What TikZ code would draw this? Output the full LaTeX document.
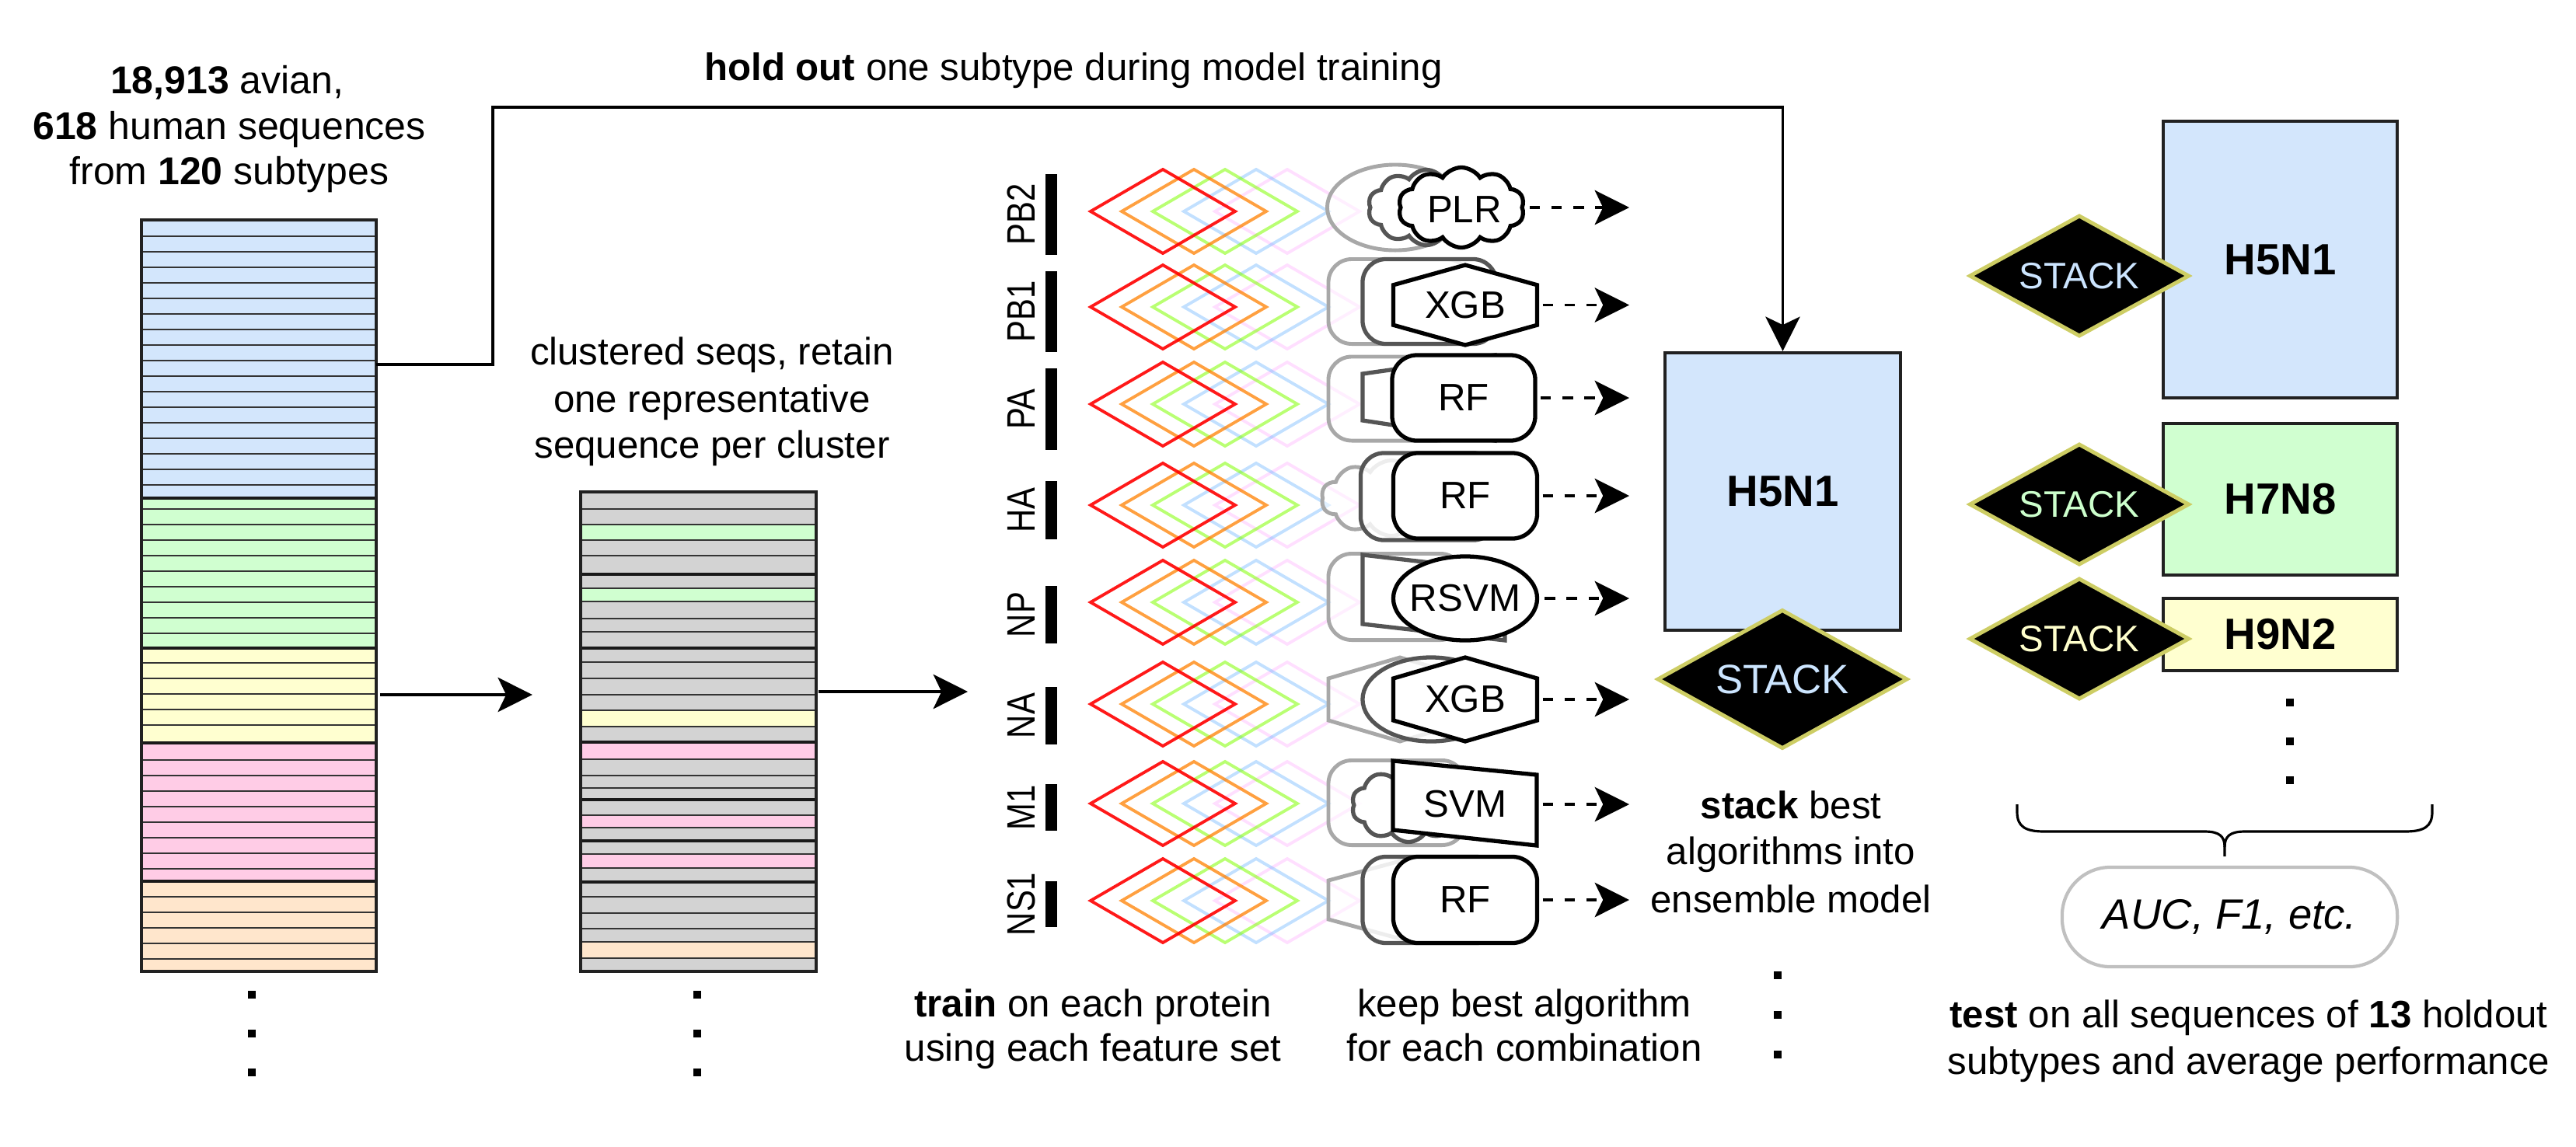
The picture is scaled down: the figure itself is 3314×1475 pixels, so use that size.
\documentclass[tikz,border=0pt]{standalone}
\usepackage{fontspec}
\setmainfont{Liberation Sans}
\newfontfamily\narrowlab[FakeStretch=0.82]{Liberation Sans}
\usetikzlibrary{arrows.meta,shapes.geometric,shapes.symbols,calc}

\definecolor{cblue}{RGB}{211,230,252}
\definecolor{cgreen}{RGB}{208,255,208}
\definecolor{cyellow}{RGB}{255,255,208}
\definecolor{cpink}{RGB}{255,204,230}
\definecolor{cpeach}{RGB}{255,230,204}
\definecolor{cgray}{RGB}{211,211,211}
\definecolor{olivebd}{RGB}{205,205,100}
\definecolor{stblue}{RGB}{204,229,255}
\definecolor{stgreen}{RGB}{204,255,204}
\definecolor{styellow}{RGB}{255,255,204}
\definecolor{backgr}{RGB}{168,168,168}
\definecolor{midgr}{RGB}{85,85,85}
\definecolor{pillgr}{RGB}{192,192,192}
\definecolor{fred}{RGB}{255,0,0}
\definecolor{forange}{RGB}{255,128,0}
\definecolor{fgreen}{RGB}{128,255,0}
\definecolor{fblue}{RGB}{102,178,255}
\definecolor{fpink}{RGB}{255,150,255}

\newcommand\hexagonat[5]{\draw[#1] (#2,#3-#5) -- (#2+#4,#3-0.5*#5) -- (#2+#4,#3+0.5*#5) -- (#2,#3+#5) -- (#2-#4,#3+0.5*#5) -- (#2-#4,#3-0.5*#5) -- cycle;}

\begin{document}
\begin{tikzpicture}[x=0.01cm,y=-0.01cm,
  txt/.style={inner sep=0,outer sep=0,font=\fontsize{14}{17}\selectfont},
  arr/.style={line width=1.1pt,-{Stealth[length=12.6pt,width=12.6pt,inset=3pt]}},
  darr/.style={arr,dash pattern=on 3.8pt off 4.2pt},
  rowline/.style={line width=0.4pt,draw=black!80},
  sepline/.style={line width=1.1pt,draw=black!90},
  boxbd/.style={line width=1.15pt,draw=black!87},
  feat/.style={line width=1.1pt},
  backl/.style={draw=backgr,line width=1.4pt,fill=white,fill opacity=0.5,inner sep=0},
  midl/.style={draw=midgr,line width=1.5pt,fill=white,fill opacity=0.8,inner sep=0},
  frontl/.style={draw=black,line width=1.5pt,fill=white,inner sep=0},
  algo/.style={inner sep=0,outer sep=0,font=\fontsize{14}{17}\selectfont},
  rrect/.style={rectangle,rounded corners=0.3cm},
  cloudy/.style={cloud,cloud puffs=10,cloud puff arc=115,aspect=1.6},
  stackd/.style={shape=diamond,aspect=1.8,fill=black,draw=olivebd,line width=1.4pt,inner sep=0},
  hbox/.style={draw=black!87,line width=1.15pt,inner sep=0,font=\fontsize{16}{19}\selectfont\bfseries},
  protlab/.style={inner sep=0,outer sep=0,rotate=90,font=\narrowlab\fontsize{14.5}{17}\selectfont}
]
\useasboundingbox (0,0) rectangle (3314,1475);

% ---------- title ----------
\node[txt,anchor=base,font=\fontsize{14.2}{17}\selectfont] (ti1) at (292,120) {\textbf{18,913} avian,};
\node[txt,anchor=base,font=\fontsize{14.2}{17}\selectfont] (ti2) at (295,179) {\textbf{618} human sequences};
\node[txt,anchor=base,font=\fontsize{14.2}{17}\selectfont] (ti3) at (295,237) {from \textbf{120} subtypes};

% ---------- source box ----------
\node[inner sep=0,outer sep=0,minimum width=3.02cm,minimum height=9.67cm] (src) at (333,766.5) {};
\fill[cblue] (182,283) rectangle (484,641);
\fill[cgreen] (182,641) rectangle (484,834);
\fill[cyellow] (182,834) rectangle (484,956);
\fill[cpink] (182,956) rectangle (484,1134);
\fill[cpeach] (182,1134) rectangle (484,1250);
\foreach \yy in {304,324,...,624} \draw[rowline] (182,\yy) -- (484,\yy);
\foreach \yy in {655,675,...,815} \draw[rowline] (182,\yy) -- (484,\yy);
\foreach \yy in {853,873,...,933} \draw[rowline] (182,\yy) -- (484,\yy);
\foreach \yy in {978,998,...,1118} \draw[rowline] (182,\yy) -- (484,\yy);
\foreach \yy in {1154,1174,...,1234} \draw[rowline] (182,\yy) -- (484,\yy);
\foreach \yy in {641,834,956,1134} \draw[sepline] (182,\yy) -- (484,\yy);
\draw[boxbd] (src.north west) rectangle (src.south east);
\foreach \yy in {1280,1330,1380} \fill (319,\yy-5) rectangle (329,\yy+5);

% ---------- clustered box ----------
\node[txt,anchor=base] (cl1) at (916,469) {clustered seqs, retain};
\node[txt,anchor=base] (cl2) at (916,530) {one representative};
\node[txt,anchor=base] (cl3) at (916,589) {sequence per cluster};
\node[inner sep=0,outer sep=0,minimum width=3.03cm,minimum height=6.17cm] (clu) at (898.5,941.5) {};
\fill[cgray] (747,633) rectangle (1050,1250);
\foreach \ya/\yb in {675/695,757/774} \fill[cgreen] (747,\ya) rectangle (1050,\yb);
\fill[cyellow] (747,914) rectangle (1050,935);
\foreach \ya/\yb in {955/977,1049/1065,1099/1117} \fill[cpink] (747,\ya) rectangle (1050,\yb);
\fill[cpeach] (747,1212) rectangle (1050,1233);
\foreach \yy in {655,675,695,715,757,774,796,813,852,873,894,914,935,977,998,1014,1049,1065,1099,1117,1154,1175,1195,1212,1233}
  \draw[rowline] (747,\yy) -- (1050,\yy);
\foreach \yy in {739,834,955,1029,1082,1135} \draw[sepline] (747,\yy) -- (1050,\yy);
\draw[boxbd] (clu.north west) rectangle (clu.south east);
\foreach \yy in {1280,1330,1380} \fill (892,\yy-5) rectangle (902,\yy+5);

% ---------- proteins and feature sets ----------
\foreach \lab/\bt/\bb/\dy [count=\i] in {PB2/224/328/272, PB1/349/453/395, PA/474/579/520, HA/619/694/650, NP/754/828/775, NA/884/958/906, M1/1009/1069/1034, NS1/1134/1193/1159} {
  \fill (1345,\bt) rectangle (1360,\bb);
  \node[protlab] (p\i) at (1314,{(\bt+\bb)/2}) {\lab};
  \foreach \cx/\col/\op in {1656/fpink/0.3,1616/fblue/0.4,1576/fgreen/0.55,1536/forange/0.75,1496/fred/0.9}
    \draw[feat,draw=\col,draw opacity=\op] (\cx-93,\dy) -- (\cx,\dy-54) -- (\cx+93,\dy) -- (\cx,\dy+54) -- cycle;
}
\coordinate (featin) at (1245,890);

% ---------- algorithms ----------
% PB2
\node[backl,ellipse,minimum width=1.75cm,minimum height=1.1cm] (b1) at (1795,267) {};
\node[midl,cloudy,minimum width=1.5cm,minimum height=0.97cm] (m1) at (1835,267) {};
\node[frontl,cloudy,minimum width=1.62cm,minimum height=1.03cm] (f1) at (1880,267) {};
\node[algo] (l1) at (1884,270) {PLR};
% PB1
\node[backl,rrect,minimum width=1.82cm,minimum height=1.09cm] (b2) at (1800,388) {};
\node[midl,rrect,minimum width=1.72cm,minimum height=1.09cm] (m2) at (1839,388) {};
\hexagonat{frontl}{1885}{392.5}{92.5}{51.5}
\node[algo,minimum width=1.85cm,minimum height=1.03cm] (f2) at (1885,392.5) {XGB};
% PA
\node[backl,rrect,minimum width=1.70cm,minimum height=1.08cm] (b3) at (1794,513) {};
\draw[midl] (1753,481) -- (1923,457) -- (1923,567) -- (1753,541) -- cycle;
\node[frontl,algo,rrect,rounded corners=0.32cm,minimum width=1.84cm,minimum height=1.1cm] (f3) at (1883,512) {RF};
% HA
\node[backl,cloudy,minimum width=1.8cm,minimum height=0.97cm] (b4) at (1790,641) {};
\node[midl,rrect,minimum width=1.75cm,minimum height=1.12cm] (m4) at (1838,639) {};
\node[frontl,algo,rrect,rounded corners=0.32cm,minimum width=1.85cm,minimum height=1.1cm] (f4) at (1885,638) {RF};
% NP
\node[backl,rrect,minimum width=1.74cm,minimum height=1.11cm] (b5) at (1796,768) {};
\draw[midl] (1753,714) -- (1936,735) -- (1936,824) -- (1753,803) -- cycle;
\node[frontl,ellipse,minimum width=1.85cm,minimum height=1.08cm] (f5) at (1885,770) {};
\node[algo] (l5) at (f5) {RSVM};
% NA
\hexagonat{backl}{1801}{900}{92}{54}
\node[midl,ellipse,minimum width=1.76cm,minimum height=1.08cm] (m6) at (1841,900) {};
\hexagonat{frontl}{1885}{900}{92.5}{54}
\node[algo,minimum width=1.85cm,minimum height=1.08cm] (f6) at (1885,900) {XGB};
% M1
\node[backl,rrect,minimum width=1.76cm,minimum height=1.09cm] (b7) at (1797,1033) {};
\node[midl,cloudy,minimum width=1.46cm,minimum height=0.95cm] (m7) at (1812,1036) {};
\draw[frontl] (1792,979) -- (1977,997) -- (1977,1088) -- (1792,1068) -- cycle;
\node[algo,minimum width=1.85cm,minimum height=1.09cm] (f7) at (1885,1035) {SVM};
% NS1
\hexagonat{backl}{1801}{1158}{92}{50}
\node[midl,rrect,minimum width=1.76cm,minimum height=1.11cm] (m8) at (1841,1158) {};
\node[frontl,algo,rrect,rounded corners=0.32cm,minimum width=1.85cm,minimum height=1.11cm] (f8) at (1885,1158) {RF};

\coordinate (ex) at (2096,0);
\foreach \i in {1,...,8} \draw[darr,shorten <=2pt] (f\i.east) -- (f\i.east -| ex);

% ---------- texts below ----------
\node[txt,anchor=base] (tr1) at (1406,1308) {\textbf{train} on each protein};
\node[txt,anchor=base] (tr2) at (1406,1365) {using each feature set};
\node[txt,anchor=base] (kp1) at (1961,1308) {keep best algorithm};
\node[txt,anchor=base] (kp2) at (1961,1365) {for each combination};

% ---------- middle H5N1 + stack ----------
\node[hbox,fill=cblue,minimum width=3.03cm,minimum height=3.57cm] (h5m) at (2293.5,632.5) {H5N1};
\node[stackd,minimum width=3.22cm,minimum height=1.79cm,text=stblue,font=\fontsize{15}{18}\selectfont] (stm) at (2293,874) {STACK};
\node[txt,anchor=base] (sb1) at (2304,1053) {\textbf{stack} best};
\node[txt,anchor=base] (sb2) at (2304,1112) {algorithms into};
\node[txt,anchor=base] (sb3) at (2304,1174) {ensemble model};
\foreach \yy in {1255,1306,1357} \fill (2282,\yy-5) rectangle (2292,\yy+5);

% ---------- connectors ----------
\draw[arr,shorten <=0.05cm,shorten >=0.62cm] (src.east |- 0,894) -- (clu.west |- 0,894);
\draw[arr,shorten <=0.03cm] (clu.east |- featin) -- (featin);
\draw[arr,line width=1pt] (src.east |- 0,469) -- (634,469) -- (634,138) -- (h5m.north |- 0,138) -- (h5m.north);
\node[txt,anchor=base] (hot) at (1381,103) {\textbf{hold out} one subtype during model training};

% ---------- right column ----------
\node[hbox,fill=cblue,minimum width=3.01cm,minimum height=3.56cm] (h5r) at (2933.5,334) {H5N1};
\node[hbox,fill=cgreen,minimum width=3.01cm,minimum height=1.95cm] (h7r) at (2933.5,642.5) {H7N8};
\node[hbox,fill=cyellow,minimum width=3.01cm,minimum height=0.93cm] (h9r) at (2933.5,816.5) {H9N2};
\node[stackd,minimum width=2.83cm,minimum height=1.56cm,text=stblue,font=\fontsize{13.5}{16}\selectfont] (s1) at (2675,355) {STACK};
\node[stackd,minimum width=2.83cm,minimum height=1.56cm,text=stgreen,font=\fontsize{13.5}{16}\selectfont] (s2) at (2675,649) {STACK};
\node[stackd,minimum width=2.83cm,minimum height=1.56cm,text=styellow,font=\fontsize{13.5}{16}\selectfont] (s3) at (2675,822) {STACK};
\foreach \yy in {904,954,1004} \fill (2941,\yy-5) rectangle (2951,\yy+5);

% brace
\draw[line width=0.9pt] (2595,1035) -- (2595,1045) .. controls (2595,1064) and (2606,1070) .. (2630,1070)
  -- (2836,1070) .. controls (2855,1070) and (2862,1076) .. (2862,1090) -- (2862,1102);
\draw[line width=0.9pt] (2862,1090) .. controls (2862,1076) and (2869,1070) .. (2888,1070)
  -- (3094,1070) .. controls (3118,1070) and (3129,1064) .. (3129,1045) -- (3129,1035);

\node[draw=pillgr,line width=1.2pt,rounded corners=0.62cm,minimum width=4.31cm,minimum height=1.28cm,inner sep=0,font=\fontsize{15.5}{18}\selectfont\itshape] (auc) at (2868.5,1180) {AUC, F1, etc.};

\node[txt,anchor=base] (te1) at (2893,1322) {\textbf{test} on all sequences of \textbf{13} holdout};
\node[txt,anchor=base] (te2) at (2893,1382) {subtypes and average performance};
\end{tikzpicture}
\end{document}
